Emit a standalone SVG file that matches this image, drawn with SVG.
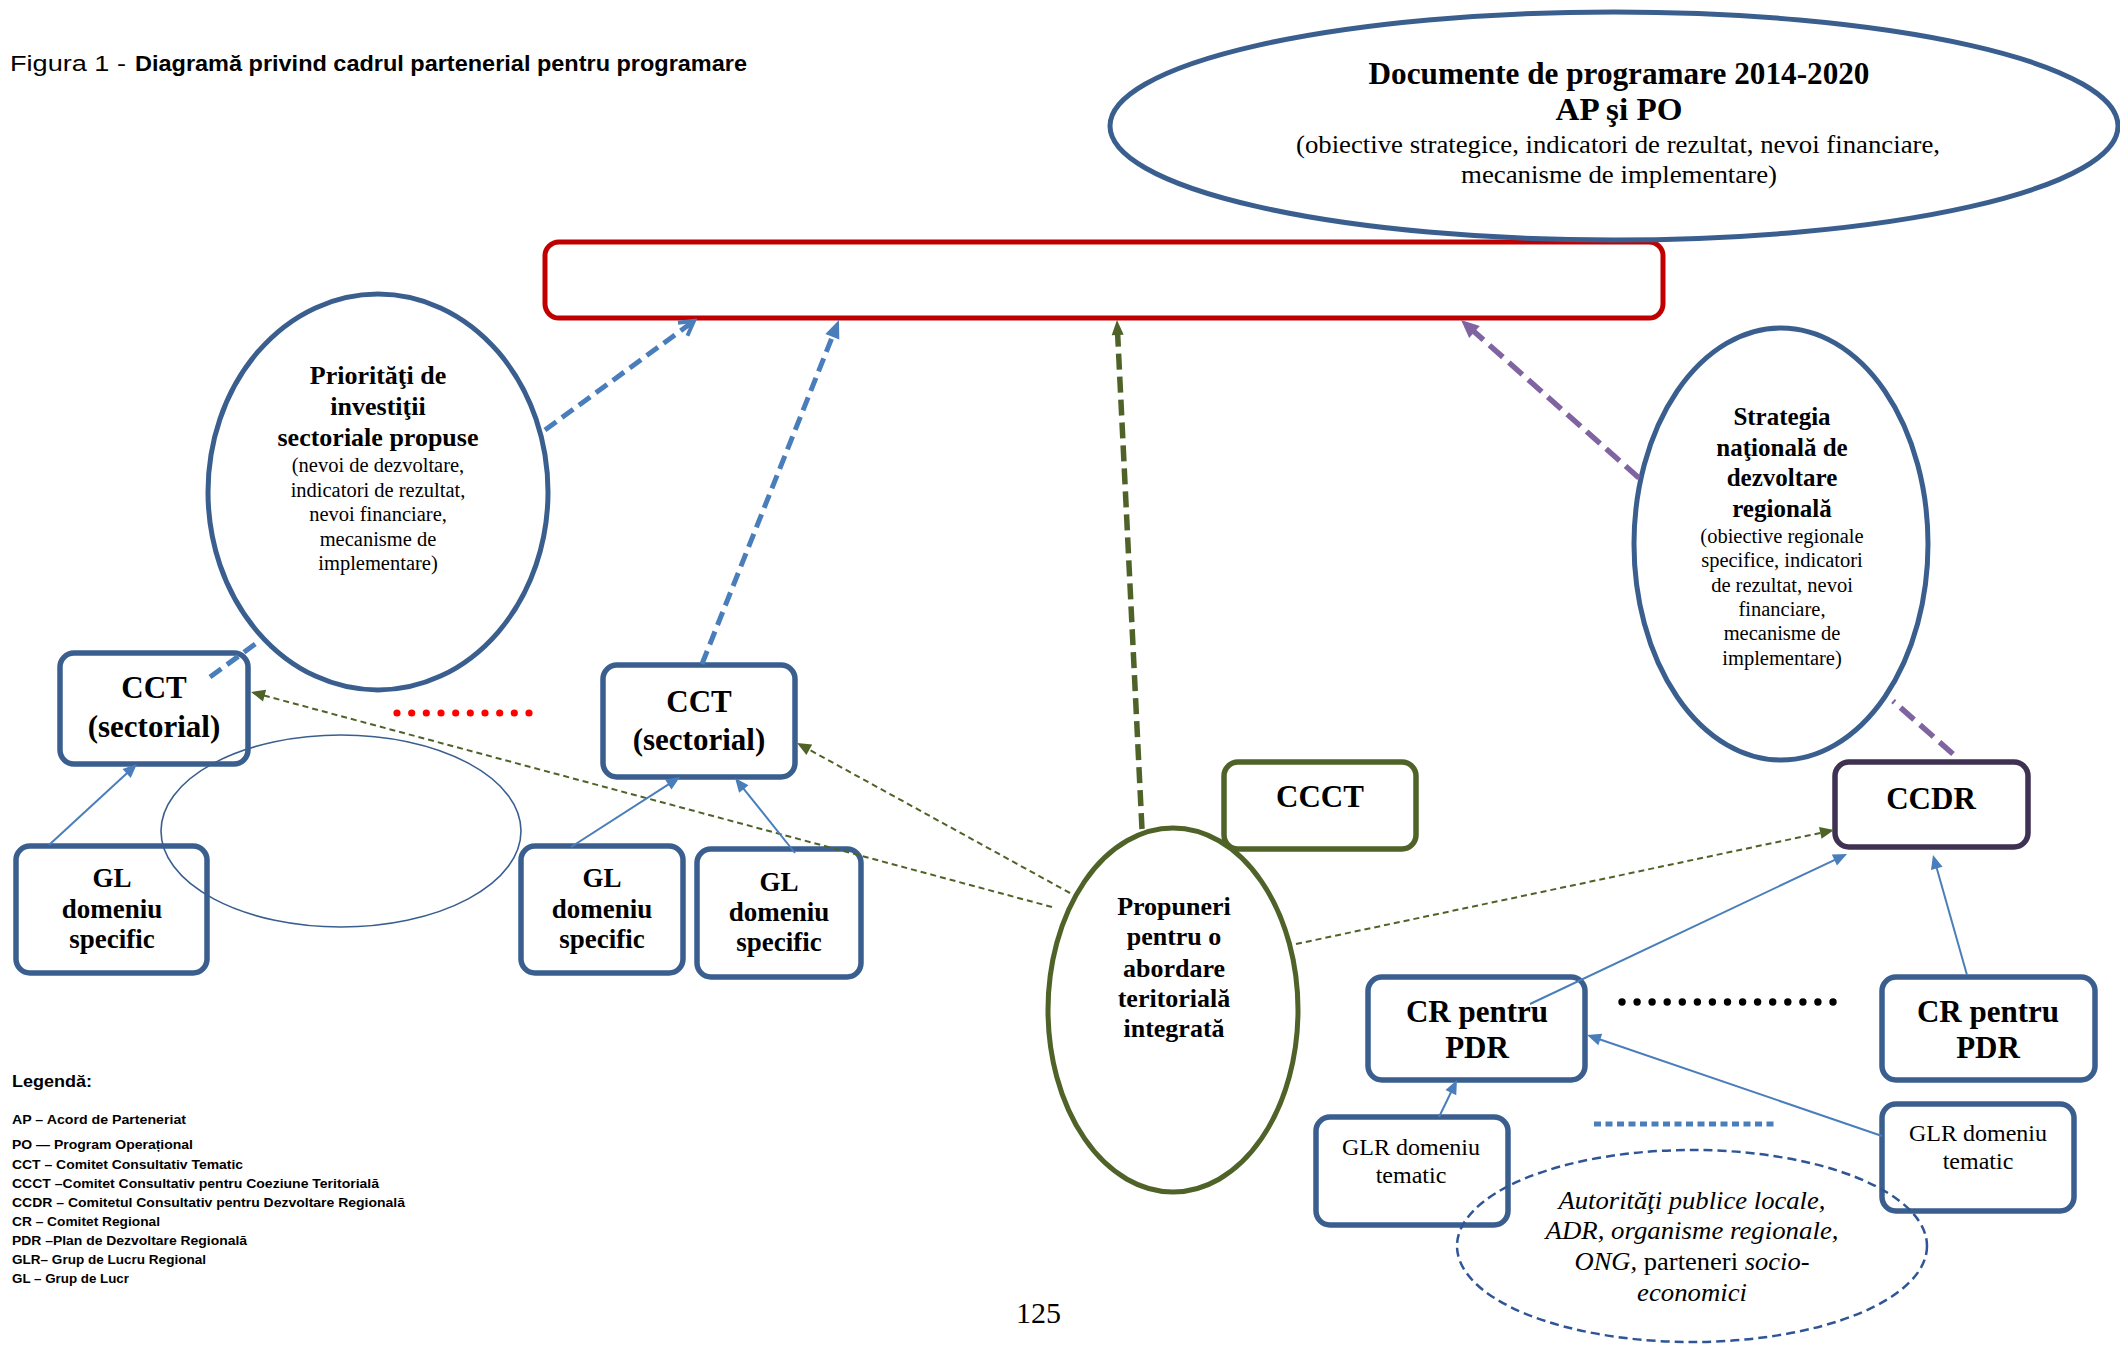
<svg xmlns="http://www.w3.org/2000/svg" width="2120" height="1347" viewBox="0 0 2120 1347">
<style>
.serif{font-family:"Liberation Serif","Times New Roman",serif;fill:#000}
.sans{font-family:"Liberation Sans",Arial,sans-serif;fill:#000}
.b{font-weight:bold}
.mid{text-anchor:middle}
.box{fill:#fff;stroke:#3A5F8F;stroke-width:5.5}
.bigell{fill:#fff;stroke:#3A5F8F;stroke-width:5}
.thinB{stroke:#4A7EBB;stroke-width:2;fill:none}
.dashB{stroke:#4A7EBB;stroke-width:5;stroke-dasharray:14 7;fill:none}
.dashG{stroke:#4F6228;stroke-width:5.5;stroke-dasharray:16 7;fill:none}
.dashP{stroke:#8064A2;stroke-width:5.5;stroke-dasharray:18 8;fill:none}
.dotG{stroke:#4F6228;stroke-width:2;stroke-dasharray:6 4;fill:none}
.n31{font-size:31px}
.n27{font-size:27px}
.n26{font-size:26px}
.r20{font-size:20.5px}
.leg{font-size:13px}
</style>
<defs>
<marker id="triB" markerUnits="userSpaceOnUse" markerWidth="14" markerHeight="12" refX="4" refY="6" orient="auto" overflow="visible"><path d="M0,0 L14,6 L0,12 z" fill="#4A7EBB"/></marker>
<marker id="triBBig" markerUnits="userSpaceOnUse" markerWidth="18" markerHeight="15" refX="4" refY="7.5" orient="auto" overflow="visible"><path d="M0,0 L18,7.5 L0,15 z" fill="#4A7EBB"/></marker>
<marker id="openB" markerUnits="userSpaceOnUse" markerWidth="16" markerHeight="16" refX="14" refY="8" orient="auto" overflow="visible"><path d="M0,0 L14,8 L0,16" fill="none" stroke="#4A7EBB" stroke-width="4"/></marker>
<marker id="triGBig" markerUnits="userSpaceOnUse" markerWidth="15" markerHeight="12" refX="4" refY="6" orient="auto" overflow="visible"><path d="M0,0 L15,6 L0,12 z" fill="#4F6228"/></marker>
<marker id="triG" markerUnits="userSpaceOnUse" markerWidth="14" markerHeight="12" refX="4" refY="6" orient="auto" overflow="visible"><path d="M0,0 L14,6 L0,12 z" fill="#4F6228"/></marker>
<marker id="triP" markerUnits="userSpaceOnUse" markerWidth="18" markerHeight="16" refX="4" refY="8" orient="auto" overflow="visible"><path d="M0,0 L18,8 L0,16 z" fill="#8064A2"/></marker>
</defs>
<rect width="2120" height="1347" fill="#fff"/>

<!-- Title -->
<g id="title">
<text class="sans" x="10" y="71" font-size="22" textLength="116" lengthAdjust="spacingAndGlyphs">Figura 1 -</text>
<text class="sans b" x="135" y="71" font-size="22" textLength="612" lengthAdjust="spacingAndGlyphs">Diagramă privind cadrul partenerial pentru programare</text>
</g>

<!-- Red box -->
<g id="node-red-box">
<rect x="545" y="242" width="1118" height="76" rx="14" fill="#fff" stroke="#C00000" stroke-width="5"/>
</g>

<!-- Top ellipse -->
<g id="node-documente">
<ellipse class="bigell" cx="1614" cy="126" rx="504" ry="114"/>
<text class="serif b mid" x="1619" y="84" font-size="31" textLength="501" lengthAdjust="spacingAndGlyphs">Documente de programare 2014-2020</text>
<text class="serif b mid" x="1619" y="120" font-size="31" textLength="127" lengthAdjust="spacingAndGlyphs">AP şi PO</text>
<text class="serif mid" x="1618" y="153" font-size="26" textLength="644" lengthAdjust="spacingAndGlyphs">(obiective strategice, indicatori de rezultat, nevoi financiare,</text>
<text class="serif mid" x="1619" y="183" font-size="26" textLength="316" lengthAdjust="spacingAndGlyphs">mecanisme de implementare)</text>
</g>

<!-- Prioritati ellipse -->
<g id="node-prioritati">
<ellipse class="bigell" cx="378" cy="492" rx="170" ry="198"/>
<text class="serif b mid n26" x="378" y="384">Priorităţi de</text>
<text class="serif b mid n26" x="378" y="415">investiţii</text>
<text class="serif b mid n26" x="378" y="446">sectoriale propuse</text>
<text class="serif mid r20" x="378" y="472">(nevoi de dezvoltare,</text>
<text class="serif mid r20" x="378" y="497">indicatori de rezultat,</text>
<text class="serif mid r20" x="378" y="521">nevoi financiare,</text>
<text class="serif mid r20" x="378" y="546">mecanisme de</text>
<text class="serif mid r20" x="378" y="570">implementare)</text>
</g>

<!-- Strategia ellipse -->
<g id="node-strategia">
<ellipse class="bigell" cx="1781" cy="544" rx="147" ry="216"/>
<text class="serif b mid" font-size="25" x="1782" y="425">Strategia</text>
<text class="serif b mid" font-size="25" x="1782" y="456">naţională de</text>
<text class="serif b mid" font-size="25" x="1782" y="486">dezvoltare</text>
<text class="serif b mid" font-size="25" x="1782" y="517">regională</text>
<text class="serif mid r20" x="1782" y="543">(obiective regionale</text>
<text class="serif mid r20" x="1782" y="567">specifice, indicatori</text>
<text class="serif mid r20" x="1782" y="592">de rezultat, nevoi</text>
<text class="serif mid r20" x="1782" y="616">financiare,</text>
<text class="serif mid r20" x="1782" y="640">mecanisme de</text>
<text class="serif mid r20" x="1782" y="665">implementare)</text>
</g>

<!-- CCT left -->
<g id="node-cct-1">
<rect class="box" x="60" y="653" width="188" height="111" rx="14"/>
<text class="serif b mid n31" x="154" y="698">CCT</text>
<text class="serif b mid n31" x="154" y="737">(sectorial)</text>
</g>

<!-- CCT middle -->
<g id="node-cct-2">
<rect class="box" x="603" y="665" width="192" height="112" rx="14"/>
<text class="serif b mid n31" x="699" y="712">CCT</text>
<text class="serif b mid n31" x="699" y="750">(sectorial)</text>
</g>

<!-- GL boxes -->
<g id="node-gl-1">
<rect class="box" x="16" y="846" width="191" height="127" rx="14"/>
<text class="serif b mid n27" x="112" y="887">GL</text>
<text class="serif b mid n27" x="112" y="918">domeniu</text>
<text class="serif b mid n27" x="112" y="948">specific</text>
</g>
<g id="node-gl-2">
<rect class="box" x="521" y="846" width="162" height="127" rx="14"/>
<text class="serif b mid n27" x="602" y="887">GL</text>
<text class="serif b mid n27" x="602" y="918">domeniu</text>
<text class="serif b mid n27" x="602" y="948">specific</text>
</g>
<g id="node-gl-3">
<rect class="box" x="697" y="849" width="164" height="128" rx="14"/>
<text class="serif b mid n27" x="779" y="891">GL</text>
<text class="serif b mid n27" x="779" y="921">domeniu</text>
<text class="serif b mid n27" x="779" y="951">specific</text>
</g>

<!-- thin ellipse -->
<g id="node-thin-ellipse">
<ellipse cx="341" cy="831" rx="180" ry="96" fill="none" stroke="#3A5F8F" stroke-width="1.6"/>
</g>

<!-- red dots -->
<g id="red-dots" fill="#FF0000">
<circle cx="397" cy="713" r="3.6"/><circle cx="411.7" cy="713" r="3.6"/><circle cx="426.3" cy="713" r="3.6"/><circle cx="441" cy="713" r="3.6"/><circle cx="455.7" cy="713" r="3.6"/><circle cx="470.3" cy="713" r="3.6"/><circle cx="485" cy="713" r="3.6"/><circle cx="499.7" cy="713" r="3.6"/><circle cx="514.3" cy="713" r="3.6"/><circle cx="529" cy="713" r="3.6"/>
</g>

<!-- CCCT -->
<g id="node-ccct">
<rect x="1224" y="762" width="192" height="87" rx="14" fill="#fff" stroke="#4F6228" stroke-width="5.5"/>
<text class="serif b mid n31" x="1320" y="807">CCCT</text>
</g>

<!-- Propuneri -->
<g id="node-propuneri">
<ellipse cx="1173" cy="1010" rx="125" ry="182" fill="#fff" stroke="#4F6228" stroke-width="5"/>
<text class="serif b mid n26" x="1174" y="915">Propuneri</text>
<text class="serif b mid n26" x="1174" y="945">pentru o</text>
<text class="serif b mid n26" x="1174" y="977">abordare</text>
<text class="serif b mid n26" x="1174" y="1007">teritorială</text>
<text class="serif b mid n26" x="1174" y="1037">integrată</text>
</g>

<!-- CCDR -->
<g id="node-ccdr">
<rect x="1835" y="762" width="193" height="85" rx="14" fill="#fff" stroke="#3F3151" stroke-width="5.5"/>
<text class="serif b mid n31" x="1931" y="809">CCDR</text>
</g>

<!-- CR boxes -->
<g id="node-cr-1">
<rect class="box" x="1368" y="977" width="217" height="103" rx="14"/>
<text class="serif b mid n31" x="1477" y="1022">CR pentru</text>
<text class="serif b mid n31" x="1477" y="1058">PDR</text>
</g>
<g id="node-cr-2">
<rect class="box" x="1882" y="977" width="213" height="103" rx="14"/>
<text class="serif b mid n31" x="1988" y="1022">CR pentru</text>
<text class="serif b mid n31" x="1988" y="1058">PDR</text>
</g>

<!-- black dots -->
<g id="black-dots" fill="#000">
<circle cx="1622" cy="1002" r="3.7"/><circle cx="1637.1" cy="1002" r="3.7"/><circle cx="1652.1" cy="1002" r="3.7"/><circle cx="1667.2" cy="1002" r="3.7"/><circle cx="1682.3" cy="1002" r="3.7"/><circle cx="1697.4" cy="1002" r="3.7"/><circle cx="1712.4" cy="1002" r="3.7"/><circle cx="1727.5" cy="1002" r="3.7"/><circle cx="1742.6" cy="1002" r="3.7"/><circle cx="1757.6" cy="1002" r="3.7"/><circle cx="1772.7" cy="1002" r="3.7"/><circle cx="1787.8" cy="1002" r="3.7"/><circle cx="1802.9" cy="1002" r="3.7"/><circle cx="1817.9" cy="1002" r="3.7"/><circle cx="1833" cy="1002" r="3.7"/>
</g>

<!-- GLR boxes -->
<g id="node-glr-1">
<rect class="box" x="1316" y="1117" width="192" height="108" rx="14"/>
<text class="serif mid" font-size="24" x="1411" y="1155">GLR domeniu</text>
<text class="serif mid" font-size="24" x="1411" y="1183">tematic</text>
</g>
<g id="node-glr-2">
<rect class="box" x="1882" y="1104" width="192" height="107" rx="14"/>
<text class="serif mid" font-size="24" x="1978" y="1141">GLR domeniu</text>
<text class="serif mid" font-size="24" x="1978" y="1169">tematic</text>
</g>

<!-- blue dotted line -->
<g id="blue-dots">
<line x1="1594" y1="1124" x2="1778" y2="1124" stroke="#4A7EBB" stroke-width="5" stroke-dasharray="7 4.5"/>
</g>

<!-- dashed ellipse -->
<g id="node-autoritati">
<ellipse cx="1692" cy="1246" rx="235" ry="96" fill="none" stroke="#2F5597" stroke-width="2.5" stroke-dasharray="9 5"/>
<text class="serif mid" font-size="26" font-style="italic" x="1692" y="1209" textLength="267" lengthAdjust="spacingAndGlyphs">Autorităţi publice locale,</text>
<text class="serif mid" font-size="26" font-style="italic" x="1692" y="1239" textLength="293" lengthAdjust="spacingAndGlyphs">ADR, organisme regionale,</text>
<text class="serif mid" font-size="26" x="1692" y="1270" textLength="235" lengthAdjust="spacingAndGlyphs"><tspan font-style="italic">ONG, </tspan>parteneri <tspan font-style="italic">socio-</tspan></text>
<text class="serif mid" font-size="26" font-style="italic" x="1692" y="1301" textLength="110" lengthAdjust="spacingAndGlyphs">economici</text>
</g>

<!-- connectors -->
<g id="connectors">
<line class="dashB" x1="545" y1="430" x2="694" y2="321" marker-end="url(#openB)"/>
<line class="dashB" x1="702" y1="664" x2="833.8" y2="333" marker-end="url(#triBBig)"/>
<line class="dashB" x1="210" y1="677" x2="258" y2="642"/>
<line class="dashG" x1="1142" y1="829" x2="1117.5" y2="331" marker-end="url(#triGBig)"/>
<line class="dashP" x1="1639" y1="478" x2="1471.5" y2="329.3" marker-end="url(#triP)"/>
<line class="dashP" x1="1953" y1="754" x2="1893" y2="701"/>
<line class="dotG" x1="1052" y1="907" x2="260.7" y2="694.6" marker-end="url(#triG)"/>
<line class="dotG" x1="1070" y1="893" x2="805.8" y2="747.8" marker-end="url(#triG)"/>
<line class="dotG" x1="1296" y1="944" x2="1824.2" y2="832.1" marker-end="url(#triG)"/>
<line class="thinB" x1="49" y1="845" x2="129.6" y2="770.8" marker-end="url(#triB)"/>
<line class="thinB" x1="571" y1="847" x2="671.6" y2="782.4" marker-end="url(#triB)"/>
<line class="thinB" x1="795" y1="853" x2="741.3" y2="785.8" marker-end="url(#triB)"/>
<line class="thinB" x1="1530" y1="1004" x2="1838" y2="858.3" marker-end="url(#triB)"/>
<line class="thinB" x1="1967" y1="975" x2="1935.7" y2="864.6" marker-end="url(#triB)"/>
<line class="thinB" x1="1439" y1="1117" x2="1452.6" y2="1089" marker-end="url(#triB)"/>
<line class="thinB" x1="1882" y1="1136" x2="1596.5" y2="1038.2" marker-end="url(#triB)"/>
</g>

<!-- Legend -->
<g id="legend">
<text class="sans b" x="12" y="1087" font-size="16" textLength="80" lengthAdjust="spacingAndGlyphs">Legendă:</text>
<text class="sans b leg" x="12" y="1124" textLength="174" lengthAdjust="spacingAndGlyphs">AP – Acord de Parteneriat</text>
<text class="sans b leg" x="12" y="1149" textLength="181" lengthAdjust="spacingAndGlyphs">PO — Program Operațional</text>
<text class="sans b leg" x="12" y="1169" textLength="231" lengthAdjust="spacingAndGlyphs">CCT – Comitet Consultativ Tematic</text>
<text class="sans b leg" x="12" y="1188" textLength="367" lengthAdjust="spacingAndGlyphs">CCCT –Comitet Consultativ pentru Coeziune Teritorială</text>
<text class="sans b leg" x="12" y="1207" textLength="393" lengthAdjust="spacingAndGlyphs">CCDR – Comitetul Consultativ pentru Dezvoltare Regională</text>
<text class="sans b leg" x="12" y="1226" textLength="148" lengthAdjust="spacingAndGlyphs">CR – Comitet Regional</text>
<text class="sans b leg" x="12" y="1245" textLength="235" lengthAdjust="spacingAndGlyphs">PDR –Plan de Dezvoltare Regională</text>
<text class="sans b leg" x="12" y="1264" textLength="194" lengthAdjust="spacingAndGlyphs">GLR– Grup de Lucru Regional</text>
<text class="sans b leg" x="12" y="1283" textLength="117" lengthAdjust="spacingAndGlyphs">GL – Grup de Lucr</text>
</g>

<g id="page-number">
<text class="serif" x="1016" y="1323" font-size="30">125</text>
</g>
</svg>
